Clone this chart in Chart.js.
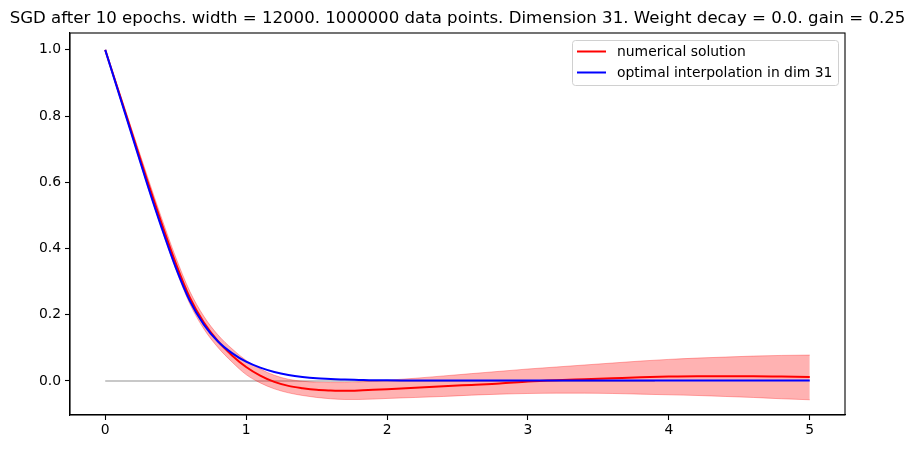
<!DOCTYPE html>
<html><head><meta charset="utf-8">
<script src="https://cdn.jsdelivr.net/npm/chart.js@4.4.1/dist/chart.umd.min.js"></script>
<style>html,body{margin:0;padding:0;background:#fff}#wrap{width:915px;height:451px}</style>
</head><body><div id="wrap"><canvas id="c" width="915" height="451"></canvas></div>
<script>
const titleText = "SGD after 10 epochs. width = 12000. 1000000 data points. Dimension 31. Weight decay = 0.0. gain = 0.25";
const legendLabels = ["numerical solution", "optimal interpolation in dim 31"];
const xTicks = [0, 1, 2, 3, 4, 5];
const yTicks = [0.0, 0.2, 0.4, 0.6, 0.8, 1.0];
const xValues = [0,0.1,0.2,0.3,0.4,0.5,0.6,0.7,0.8,0.9,1.0,1.1,1.2,1.3,1.4,1.5,1.6,1.7,1.8,1.9,2.0,2.2,2.4,2.6,2.8,3.0,3.2,3.4,3.6,3.8,4.0,4.2,4.4,4.6,4.8,5.0];
const blueValues = [1.0,0.864,0.728,0.592,0.463,0.343,0.242,0.170,0.119,0.084,0.058,0.04,0.027,0.018,0.012,0.008,0.006,0.004,0.003,0.002,0.002,0.001,0.001,0.001,0.001,0.001,0.001,0.001,0.001,0.001,0.001,0.001,0.001,0.001,0.001,0.001];
const redValues = [1.0,0.868,0.735,0.603,0.476,0.356,0.252,0.176,0.120,0.077,0.042,0.016,-0.003,-0.015,-0.022,-0.027,-0.029,-0.030,-0.029,-0.027,-0.025,-0.021,-0.016,-0.012,-0.008,-0.002,0.002,0.005,0.008,0.011,0.013,0.014,0.014,0.014,0.013,0.012];
const bandUpper = [1.0,0.874,0.745,0.617,0.492,0.374,0.271,0.195,0.139,0.097,0.062,0.036,0.017,0.005,-0.001,-0.004,-0.005,-0.005,-0.003,-0.001,0.002,0.008,0.015,0.022,0.029,0.036,0.042,0.048,0.054,0.060,0.065,0.069,0.072,0.075,0.077,0.078];
const bandLower = [1.0,0.862,0.725,0.589,0.460,0.338,0.233,0.157,0.101,0.057,0.019,-0.006,-0.024,-0.036,-0.044,-0.050,-0.054,-0.056,-0.056,-0.055,-0.053,-0.050,-0.047,-0.043,-0.040,-0.038,-0.037,-0.037,-0.038,-0.040,-0.042,-0.044,-0.047,-0.050,-0.054,-0.057];
const grayX = [0, 3.9];
const grayY = [0, 0];

const pts = (xs, ys) => xs.map((x, i) => ({x, y: ys[i]}));
const FONT = "'DejaVu Sans', sans-serif";

const framePlugin = {
  id: 'frame',
  afterDraw(chart) {
    const {ctx, chartArea: a} = chart;
    ctx.save();
    ctx.strokeStyle = '#000';
    ctx.lineWidth = 1.1;
    ctx.strokeRect(a.left, a.top, a.right - a.left, a.bottom - a.top);
    // title
    ctx.fillStyle = '#000';
    ctx.font = "16.6px " + FONT;
    ctx.textAlign = 'center';
    ctx.textBaseline = 'alphabetic';
    ctx.fillText(titleText, (a.left + a.right) / 2, 23);
    // legend
    const bx = 572.5, by = 40.5, bw = 266, bh = 45;
    ctx.beginPath();
    if (ctx.roundRect) ctx.roundRect(bx, by, bw, bh, 3); else ctx.rect(bx, by, bw, bh);
    ctx.fillStyle = 'rgba(255,255,255,0.8)';
    ctx.fill();
    ctx.strokeStyle = '#d0d0d0';
    ctx.lineWidth = 1;
    ctx.stroke();
    const cols = ['#ff0000', '#0000ff'];
    const ys = [51.5, 72.5];
    ctx.font = "13.9px " + FONT;
    ctx.textAlign = 'left';
    ctx.textBaseline = 'middle';
    for (let i = 0; i < 2; i++) {
      ctx.beginPath();
      ctx.moveTo(577, ys[i]); ctx.lineTo(606, ys[i]);
      ctx.strokeStyle = cols[i]; ctx.lineWidth = 2; ctx.stroke();
      ctx.fillStyle = '#000';
      ctx.fillText(legendLabels[i], 617, ys[i] + 0.5);
    }
    ctx.restore();
  }
};

new Chart(document.getElementById('c'), {
  type: 'line',
  data: {
    datasets: [
      {data: pts(grayX, grayY), borderColor: '#c8c8c8', borderWidth: 2, pointRadius: 0, order: 4, fill: false},
      {data: pts(xValues, bandLower), borderColor: 'rgba(255,0,0,0.3)', borderWidth: 1, pointRadius: 0, order: 3, fill: false, cubicInterpolationMode: 'monotone'},
      {data: pts(xValues, bandUpper), borderColor: 'rgba(255,0,0,0.3)', borderWidth: 1, pointRadius: 0, order: 2, fill: '-1', backgroundColor: 'rgba(255,0,0,0.3)', cubicInterpolationMode: 'monotone'},
      {data: pts(xValues, redValues), borderColor: '#ff0000', borderWidth: 2, pointRadius: 0, order: 1, fill: false, cubicInterpolationMode: 'monotone'},
      {data: pts(xValues, blueValues), borderColor: '#0000ff', borderWidth: 2, pointRadius: 0, order: 0, fill: false, cubicInterpolationMode: 'monotone'}
    ]
  },
  options: {
    responsive: false,
    animation: false,
    devicePixelRatio: 1,
    layout: {padding: {left: 0, right: 70, top: 33, bottom: 0}},
    plugins: {legend: {display: false}, title: {display: false}, tooltip: {enabled: false}},
    scales: {
      x: {
        type: 'linear', min: -0.25, max: 5.25,
        afterBuildTicks: s => { s.ticks = xTicks.map(v => ({value: v})); },
        afterFit: s => { s.height = 36; },
        grid: {drawOnChartArea: false, drawTicks: true, tickLength: 5, color: '#000', tickWidth: 1.1},
        border: {display: true, color: '#000', width: 1.1},
        ticks: {color: '#000', font: {family: FONT, size: 13.9}, padding: 2, maxRotation: 0, callback: v => String(v)}
      },
      y: {
        type: 'linear', min: -0.103, max: 1.051,
        afterBuildTicks: s => { s.ticks = yTicks.map(v => ({value: v})); },
        afterFit: s => { s.width = 70; },
        grid: {drawOnChartArea: false, drawTicks: true, tickLength: 5, color: '#000', tickWidth: 1.1},
        border: {display: true, color: '#000', width: 1.1},
        ticks: {color: '#000', font: {family: FONT, size: 13.9}, padding: 4, callback: v => Number(v).toFixed(1)}
      }
    }
  },
  plugins: [framePlugin]
});
</script></body></html>
